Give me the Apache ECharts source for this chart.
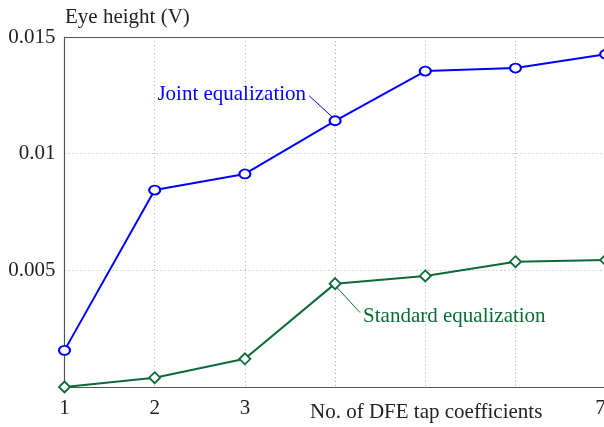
<!DOCTYPE html>
<html>
<head>
<meta charset="utf-8">
<script src="https://cdn.jsdelivr.net/npm/echarts@6/dist/echarts.min.js"></script>
<style>
  html, body { margin: 0; padding: 0; background: #fff; overflow: hidden; }
  /* canvas is a little wider than the page so the plot box runs off the right edge */
  #chart { width: 616px; height: 427px; }
</style>
</head>
<body>
<div id="chart"></div>
<script>
// DFE tap count on the x axis, eye height (V) on the y axis
const tapCounts = ['1', '2', '3', '4', '5', '6', '7'];
const xTickLabels = ['1', '2', '3', '', '', '', '7'];
const yTickLabels = { 0.005: '0.005', 0.01: '0.01', 0.015: '0.015' };
const jointEq = [0.00157, 0.00844, 0.00913, 0.01141, 0.01354, 0.01367, 0.01426];
const standardEq = [0.0, 0.0004, 0.00121, 0.00443, 0.00476, 0.00537, 0.00544];

const BLUE = '#0000ff';
const GREEN = '#0b6b37';
const FONT = '"Liberation Serif", "DejaVu Serif", serif';

const chart = echarts.init(document.getElementById('chart'), null, { renderer: 'canvas' });

const gridLine = { show: true, lineStyle: { color: '#aaaaaa', type: [1, 3], width: 1 } };
const axisLine = { show: true, lineStyle: { color: '#555555', width: 1.2 } };

chart.setOption({
  animation: false,
  backgroundColor: '#ffffff',
  grid: { left: 64.5, width: 541.2, top: 37, height: 350, containLabel: false },
  xAxis: [{
    type: 'category',
    data: tapCounts,
    boundaryGap: false,
    axisLine: axisLine,
    axisTick: { show: false },
    splitLine: gridLine,
    axisLabel: {
      color: '#222', fontFamily: FONT, fontSize: 21, margin: 11,
      alignMaxLabel: 'right',
      formatter: (v, i) => xTickLabels[i]
    }
  }, {
    type: 'category',
    data: tapCounts,
    boundaryGap: false,
    position: 'top',
    axisLine: axisLine,
    axisTick: { show: false },
    axisLabel: { show: false },
    splitLine: { show: false }
  }],
  yAxis: {
    type: 'value',
    min: 0, max: 0.015, interval: 0.005,
    axisLine: axisLine,
    axisTick: { show: false },
    splitLine: gridLine,
    axisLabel: {
      color: '#222', fontFamily: FONT, fontSize: 21, margin: 9,
      formatter: v => yTickLabels[Math.round(v * 1000) / 1000] || ''
    }
  },
  series: [{
    name: 'Joint equalization',
    type: 'line',
    data: jointEq,
    symbol: 'circle',
    symbolSize: [11, 9],
    lineStyle: { color: BLUE, width: 2 },
    itemStyle: { color: '#ffffff', borderColor: BLUE, borderWidth: 2 },
    z: 3
  }, {
    name: 'Standard equalization',
    type: 'line',
    data: standardEq,
    symbol: 'diamond',
    symbolSize: [11, 11],
    lineStyle: { color: GREEN, width: 2 },
    itemStyle: { color: '#ffffff', borderColor: GREEN, borderWidth: 1.8 },
    z: 3
  }]
});

// Series captions with leader lines, anchored to the 4-tap data points
const pJ = chart.convertToPixel({ xAxisIndex: 0, yAxisIndex: 0 }, [3, jointEq[3]]);
const pS = chart.convertToPixel({ xAxisIndex: 0, yAxisIndex: 0 }, [3, standardEq[3]]);

chart.setOption({
  graphic: [
    {
      type: 'text', x: 65, y: 17,
      style: { text: 'Eye height (V)', fill: '#222', font: '21px ' + FONT,
               textVerticalAlign: 'middle' }
    },
    {
      type: 'text', x: 310, y: 412,
      style: { text: 'No. of DFE tap coefficients', fill: '#222', font: '21px ' + FONT,
               textVerticalAlign: 'middle' }
    },
    {
      type: 'line',
      shape: { x1: pJ[0] - 3, y1: pJ[1] - 4, x2: pJ[0] - 26, y2: pJ[1] - 25 },
      style: { stroke: BLUE, lineWidth: 1 }
    },
    {
      type: 'text', x: pJ[0] - 29, y: pJ[1] - 26,
      style: { text: 'Joint equalization', fill: BLUE, font: '21px ' + FONT,
               textAlign: 'right', textVerticalAlign: 'middle' }
    },
    {
      type: 'line',
      shape: { x1: pS[0] + 2, y1: pS[1] + 4, x2: pS[0] + 25, y2: pS[1] + 29 },
      style: { stroke: GREEN, lineWidth: 1 }
    },
    {
      type: 'text', x: pS[0] + 28, y: pS[1] + 33,
      style: { text: 'Standard equalization', fill: GREEN, font: '21px ' + FONT,
               textAlign: 'left', textVerticalAlign: 'middle' }
    }
  ]
});
</script>
</body>
</html>
